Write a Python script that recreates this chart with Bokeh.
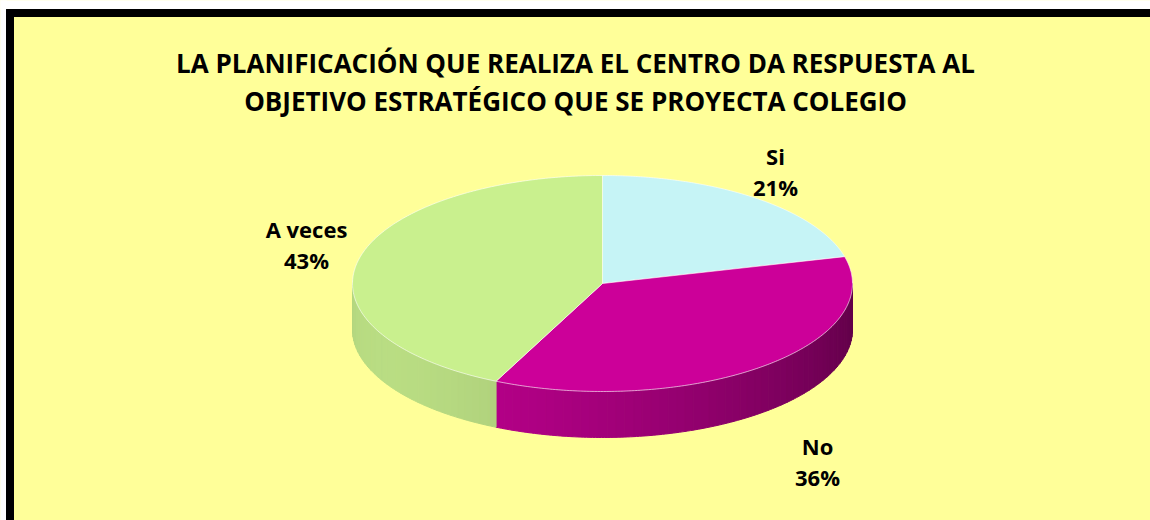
import numpy as np
from bokeh.plotting import figure
from bokeh.models import Range1d
from bokeh.core.properties import value
from bokeh.embed import file_html
from bokeh.resources import INLINE

# ---- data ----
categories = ["Si", "No", "A veces"]
values = [21, 36, 43]
top_colors = ["#C6F4F6", "#CC0099", "#C9F08E"]
title_lines = ["LA PLANIFICACIÓN QUE REALIZA EL CENTRO DA RESPUESTA AL",
               "OBJETIVO ESTRATÉGICO QUE SE PROYECTA COLEGIO"]

# ---- layout constants ----
W, H = 1150, 520
CX, CY, RX, RY, DEPTH = 602, 283, 250, 108, 46
BG = "#FFFF99"
FONT = "Open Sans"


def hex2rgb(h):
    h = h.lstrip("#")
    return tuple(int(h[i:i + 2], 16) for i in (0, 2, 4))


def shade(h, f):
    r, g, b = hex2rgb(h)
    return "#%02x%02x%02x" % tuple(max(0, min(255, int(round(c * f)))) for c in (r, g, b))


p = figure(width=W, height=H, x_range=Range1d(0, W), y_range=Range1d(H, 0),
           output_backend="svg", toolbar_location=None, min_border=0)
p.axis.visible = False
p.grid.visible = False
p.outline_line_color = None
p.background_fill_color = BG
p.border_fill_color = BG

# page area outside the frame, then frame border (left/top visible)
p.quad(left=[0], right=[6], top=[0], bottom=[H], color="white")
p.quad(left=[0], right=[W], top=[0], bottom=[9], color="white")
p.quad(left=[6], right=[13], top=[9], bottom=[H], color="black")
p.quad(left=[6], right=[W], top=[9], bottom=[16], color="black")

total = float(sum(values))
starts, ends = [], []
a = 90.0
for v in values:
    starts.append(a)
    a -= 360.0 * v / total
    ends.append(a)


def pt(deg, dy=0.0):
    r = np.radians(deg)
    return CX + RX * np.cos(r), CY - RY * np.sin(r) + dy

# side walls (front half only)
for s, e, col in zip(starts, ends, top_colors):
    for shift in (0, 360, -360):
        lo, hi = e + shift, s + shift
        lo2, hi2 = max(lo, -180.0), min(hi, 0.0)
        if hi2 - lo2 <= 0:
            continue
        n = max(2, int((hi2 - lo2) / 2))
        edges = np.linspace(lo2, hi2, n + 1)
        xs, ys, cs = [], [], []
        for b1, b2 in zip(edges[:-1], edges[1:]):
            bb = np.linspace(b1, b2, 4)
            tx, ty = pt(bb)
            bx, by = pt(bb[::-1], DEPTH)
            xs.append(list(tx) + list(bx))
            ys.append(list(ty) + list(by))
            mid = 0.5 * (b1 + b2)
            f = 0.68 + 0.24 * np.cos(np.radians(mid + 150))
            cs.append(shade(col, f))
        p.patches(xs, ys, fill_color=cs, line_color=cs, line_width=1)

# top faces
for s, e, col in zip(starts, ends, top_colors):
    ang = np.linspace(s, e, 200)
    x, y = pt(ang)
    p.patch([CX] + list(x), [CY] + list(y), fill_color=col,
            line_color="white", line_alpha=0.6, line_width=1)

# labels
label_pos = {"Si": (775, 155), "No": (817, 445), "A veces": (306, 228)}
for c, v in zip(categories, values):
    lx, ly = label_pos[c]
    p.text(x=[lx, lx], y=[ly, ly + 31], text=[c, "%d%%" % v],
           text_font=value(FONT), text_font_style="bold", text_font_size="22px",
           text_align="center", text_baseline="middle", text_color="black")

# title
p.text(x=[575, 575], y=[62, 100], text=title_lines,
       text_font=value(FONT), text_font_style="bold", text_font_size="26px",
       text_align="center", text_baseline="middle", text_color="black")

open("out.html", "w").write(file_html(p, INLINE))
